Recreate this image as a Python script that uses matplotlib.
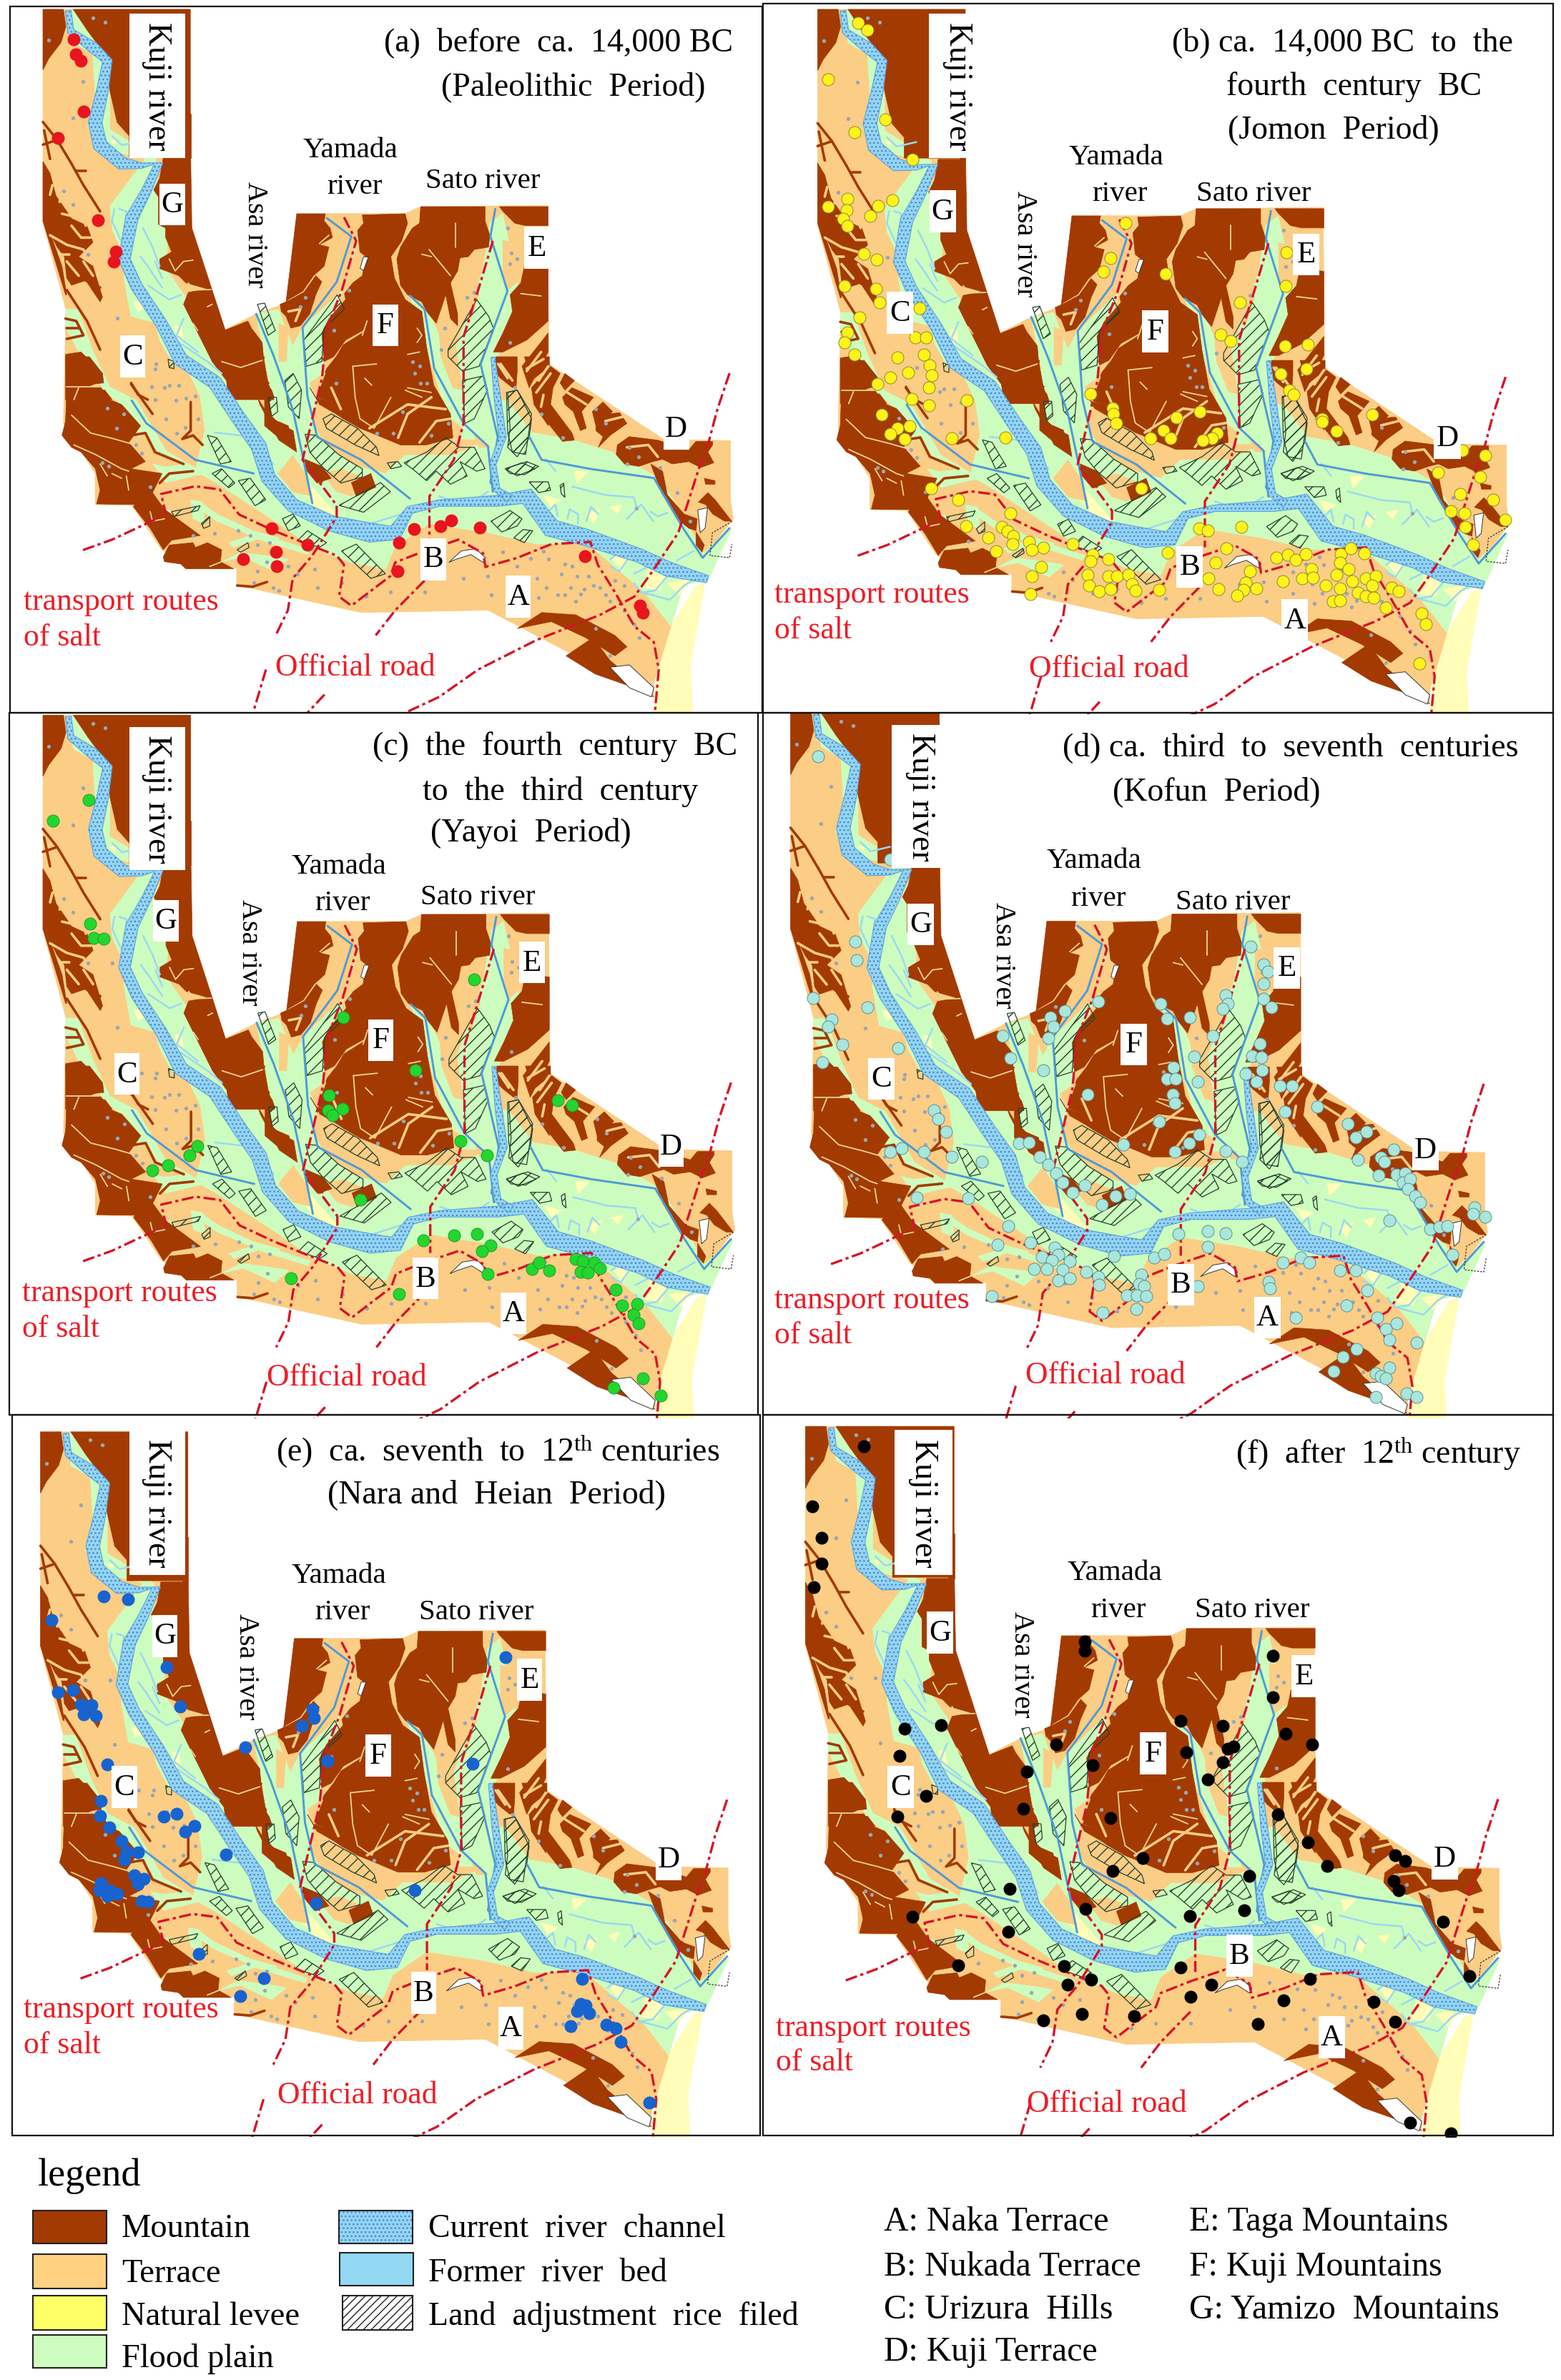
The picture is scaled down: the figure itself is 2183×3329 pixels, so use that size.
import numpy as np
import matplotlib
matplotlib.use("Agg")
import matplotlib.pyplot as plt
from matplotlib.patches import Polygon, Rectangle

plt.rcParams['font.family'] = ['Liberation Serif', 'DejaVu Serif']
plt.rcParams['mathtext.fontset'] = 'custom'
plt.rcParams['mathtext.rm'] = 'Liberation Serif'
plt.rcParams['mathtext.default'] = 'regular'
plt.rcParams['hatch.linewidth'] = 1.0

MOUNTAIN_C = '#A33A02'; TERRACE_C = '#FBCD85'; LEVEE_C = '#FFFDB8'; LEVEE_LEG = '#FFFF66'
FLOOD_C = '#CDFDBE'; RIVER_C = '#95D4F2'; STIPPLE_C = '#3F86CF'; LINE_BLUE = '#4E9AD6'
ROAD_C = '#D5142A'; GREY_C = '#9AA6B4'

ORIG_NW = (50,160); ORIG_C = (370,280); ORIG_E = (680,500); ORIG_SW = (70,500)
def Z(origin, polys):
    return [[((origin[0]+x/3)*1.4654, (origin[1]+y/3)*1.568) for x, y in p] for p in polys]

NW_MOUNT = [
    [(535,185),(650,185),(655,480),(795,908),(890,870),(905,900),(950,960),(955,1020),(975,1130),(1000,1200),(810,1200),(800,1120),(740,1040),(670,900),(620,800),
     (640,750),(720,735),(630,710),(600,680),(520,650),(520,610),(570,580),(545,520),(545,480),(515,465),(515,350),(495,320),(520,270)],
    [(625,0),(650,0),(650,185),(625,185)],
    [(30,200),(60,250),(85,345),(130,410),(150,440),(215,470),(240,540),(180,600),(240,640),(280,770),(270,790),(210,700),(150,720),(130,690),(120,600),(90,560),(60,500),(30,450)],
    [(30,450),(60,500),(110,640),(130,760),(125,760)],
    [(125,1010),(190,1000),(280,1090),(280,1120),(210,1150),(290,1160),(320,1200),(125,1200)],
]
NW_BRANCH = [[(30,35),(90,110),(150,210),(200,300),(270,410)],[(170,240),(210,240)],[(130,740),(215,870),(270,990)],[(35,70),(60,190)],[(30,130),(90,110)],
    [(125,860),(170,870),(200,930),(130,945)],[(130,900),(180,900)],[(400,1130),(430,1180),(470,1200)],[(210,700),(270,730)]]
NW_CUT = [[(70,260),(120,300),(100,370)],[(110,420),(200,440),(210,470)],[(60,510),(130,550),(200,570),(230,620)],[(130,620),(180,680)],[(200,620),(240,680)],
    [(150,470),(190,520),(230,520)],[(70,300),(60,340)],[(100,590),(140,590)],[(150,290),(175,330)]]
NW_STREAK = [[(560,610),(585,660),(620,620),(660,615)],[(640,710),(660,740),(735,738)],[(780,1040),(860,1065),(950,1035)],[(720,810),(740,800)],[(660,880),(680,910)]]
NW_LIGHT_RIV = [[(330,400),(320,450),(370,560)],[(350,400),(380,410),(375,540)],[(450,480),(490,560),(520,640)],[(440,600),(470,640),(530,730)],[(500,620),(530,690)],
    [(470,720),(560,780),(610,760)],[(620,860),(590,930),(680,1000)],[(600,960),(720,1040),(780,1090)]]
NW_LEVEE = [[(410,790),(450,780),(470,810),(430,830)],[(580,890),(610,890),(620,950),(600,950)],[(310,110),(340,110),(330,130)]]

C_MOUNT = [
    [(135,60),(255,60),(250,90),(275,120),(285,160),(230,190),(270,200),(250,280),(205,320),(160,385),(100,420),(90,430)],
    [(65,440),(100,425),(165,390),(215,320),(240,345),(215,400),(190,480),(150,530),(110,540),(90,490),(70,470)],
    [(410,65),(590,60),(600,100),(575,175),(530,240),(545,330),(590,420),(660,470),(680,620),(710,780),(780,900),(790,1000),(680,1030),(570,1030),(450,980),(400,960),
     (330,920),(280,850),(225,830),(240,760),(260,710),(300,660),(330,610),(410,560),(430,540),(340,590),(290,660),(250,680),(240,560),(270,500),(340,420),(335,395),
     (370,350),(410,320),(425,240),(400,220),(390,130),(415,100)],
    [(655,30),(925,30),(925,90),(945,150),(940,200),(880,210),(855,240),(820,245),(810,300),(780,350),(810,480),(810,530),(780,500),(760,400),(720,520),(680,470),
     (660,430),(600,400),(570,360),(555,250),(570,200),(620,120),(650,100)],
    [(985,30),(1190,30),(1190,110),(1095,110),(1050,100),(1000,50)],
    [(1095,280),(1190,290),(1190,510),(1100,590),(1000,640),(960,640),(1000,560),(1040,470),(1030,400),(1075,350),(1090,280)],
    [(960,670),(1010,660),(1050,780),(1040,790),(990,750),(960,700)],
    [(1080,700),(1190,560),(1190,640),(1110,790)],
    [(1120,790),(1190,740),(1190,950),(1130,860)],
    [(170,1090),(240,1120),(280,1170),(220,1190),(170,1130)],
    [(0,760),(30,800),(40,830),(20,850),(30,920),(100,950),(110,1000),(130,1050),(60,1000),(0,950)],
    [(190,790),(215,830),(280,850),(330,920),(300,900),(230,860)],
]
C_TERRACE = [[(400,220),(430,235),(410,330),(350,360),(345,390),(300,380),(330,340),(370,250)],[(310,600),(410,565),(440,580),(420,605),(350,630),(320,620)],
    [(190,770),(250,730),(330,840),(340,940),(280,880),(215,830)],[(730,530),(790,530),(830,800),(790,790),(740,660)],[(800,300),(880,310),(900,400),(860,520),(820,480)],
    [(280,180),(330,160),(300,300),(260,290)],[(530,240),(560,360),(600,430),(570,400),(530,320)],[(1000,170),(1090,200),(1080,330),(1020,380),(1000,300)],
    [(780,920),(830,960),(820,1010),(790,1000)],[(880,990),(950,1040),(900,1040)],[(60,520),(100,540),(90,680),(60,680)]]
C_CUT = [[(440,960),(600,860),(760,880)],[(560,1000),(600,900),(700,830)],[(650,1020),(720,930),(780,920)],[(100,470),(150,460),(130,510)],[(980,690),(1020,750)],
    [(1100,720),(1160,640)],[(1150,760),(1190,700)],[(250,730),(220,810)],[(280,790),(320,880)]]
C_STREAK = [[(370,700),(470,690)],[(370,700),(380,830),(400,920),(460,960),(530,830)],[(420,750),(450,780)],[(600,790),(700,810)],[(600,650),(650,640)],[(590,800),(660,830)],
    [(640,540),(660,570),(640,600)],[(430,510),(410,570)],[(690,210),(780,320)],[(800,100),(800,200)],[(1075,395),(1160,405)],[(660,230),(700,240)],[(230,185),(270,150)]]
E_MOUNT = [
    [(190,130),(270,40),(310,70),(280,130),(270,200),(360,320),(370,350),(320,355),(260,280),(240,230),(200,190)],
    [(320,170),(360,130),(450,170),(400,230),(420,300),(395,310),(365,230),(330,200)],
    [(445,230),(490,190),(530,230),(460,290)],
    [(460,310),(460,270),(510,240),(560,235),(590,280),(520,330),(470,380),(490,335)],
    [(550,370),(600,335),(720,350),(850,390),(880,355),(950,355),(950,370),(930,400),(955,445),(900,465),(850,440),(780,450),(740,430),(700,440),(640,460),(580,450),(545,410)],
    [(690,450),(740,480),(760,580),(830,660),(885,680),(880,730),(850,720),(800,680),(735,570)],
    [(880,735),(915,790),(905,820),(880,790)],
    [(890,610),(930,570),(960,600),(1030,690),(1000,690),(950,660),(920,620)],
    [(915,510),(960,520),(960,535),(920,535)],
    [(40,0),(130,0),(130,60),(125,130),(100,120),(50,80)],
    [(160,0),(265,0),(265,40),(190,100)],
    [(330,70),(370,100),(330,140),(310,110)],
]
E_CUT = [[(210,150),(270,70)],[(340,150),(420,200)],[(500,270),(580,250)],[(590,380),(680,370),(720,420)],[(230,210),(240,160)],[(60,30),(110,100)],[(170,50),(240,10)]]
E_LEVEE = [[(530,850),(570,810),(610,820),(570,900)],[(680,890),(750,920),(730,980),(660,970)],[(370,480),(430,480),(380,530)],[(520,630),(570,620),(550,660)],
    [(240,580),(310,600),(270,630)],[(420,660),(480,640),(450,700)],[(760,950),(870,930),(810,1000)]]
E_LIGHT_RIV = [[(360,545),(500,580),(620,590),(630,630)],[(260,650),(290,620),(300,670)],[(340,680),(350,640),(385,660),(385,700)],[(420,690),(440,630),(470,660)],
    [(520,850),(570,810),(610,825),(560,900),(520,880)],[(620,910),(680,880),(760,920),(710,980),(650,990),(620,950)],[(660,990),(770,1020),(830,960),(880,930)],
    [(690,650),(720,670),(760,655)],[(590,680),(650,620),(700,690)],[(250,430),(290,480)],[(800,855),(870,815)]]
SW_MOUNT = [
    [(65,0),(165,0),(220,70),(225,110),(70,125)],
    [(70,130),(210,125),(250,180),(300,200),(380,290),(330,360),(400,440),(340,470),(470,490),(430,570),(480,640),(630,750),(510,770),(475,810),(420,720),(350,630),(355,620),
     (195,618),(210,560),(190,470),(130,400),(90,380),(50,330),(65,270)],
    [(475,840),(500,790),(600,780),(610,800),(660,780),(720,810),(715,860),(770,890),(570,890),(550,870),(480,860)],
    [(700,0),(900,0),(880,70),(920,110),(870,170),(900,220),(960,280),(1020,310),(1035,400),(960,350),(880,200),(870,170),(800,100),(740,90)],
    [(1085,450),(1165,490),(1140,530),(1090,490)],
]
SW_TERRACE = [[(330,360),(400,320),(450,400),(560,450),(480,460),(400,440)],[(320,490),(350,470),(430,470),(465,490),(430,550),(340,510)],
    [(240,200),(310,210),(370,290),(310,280)]]
SW_STREAK = [[(90,245),(170,320),(270,345),(340,365),(390,330)],[(100,370),(190,410),(300,470),(330,480)],[(210,450),(240,500)],[(260,490),(300,510)],[(70,125),(210,125)],
    [(120,130),(100,180)],[(420,650),(430,690),(480,680)],[(510,780),(600,770)],[(320,500),(330,560)],[(670,880),(720,860)]]
SW_BRANCH = [[(340,115),(380,170),(430,240)],[(590,190),(590,310),(555,345),(600,330),(640,370)],[(340,330),(400,320),(440,400),(560,450)],[(460,530),(500,490),(600,480)],
    [(785,960),(850,965),(910,945)],[(240,200),(310,225),(370,290)]]
SW_FLOOD = [[(630,610),(700,660),(850,730),(960,760),(950,780),(830,745),(700,690),(630,640)],[(750,780),(870,740),(1090,810),(1080,830),(870,765),(770,800)],
    [(720,860),(800,820),(950,840),(1000,850),(940,900),(810,840)],[(430,670),(500,640),(520,680),(460,700)],[(590,600),(640,610),(650,700),(600,680)]]

TERRACE_OUT = [(88,22),(390,22),(390,500),(460,725),(525,690),(590,665),(608,470),(830,470),(862,455),(1122,452),
    (1125,800),(1360,965),(1497,968),(1497,1100),(1503,1140),(1440,1225),(1452,1272),(1400,1285),(1375,1375),(1340,1500),(1340,1530),
    (1000,1340),(740,1345),(485,1285),(485,1248),(380,1248),(330,1205),(270,1110),(195,1108),(195,1040),(130,930),(135,680),(88,490)]
COAST = [(1445,1278),(1425,1288),(1375,1375),(1345,1490),(1340,1565),(1420,1565),(1415,1460),(1440,1310)]
FLOOD_MAIN = [(140,25),(165,25),(225,100),(235,135),(225,200),(225,285),(270,315),(320,350),(325,440),(345,500),(340,590),(385,660),
    (410,720),(450,810),(520,860),(560,950),(625,1000),(650,960),(720,1020),(790,1040),(830,1000),(930,1000),(1010,960),(1020,880),
    (1040,880),(1090,950),(1170,965),(1260,995),(1350,1050),(1400,1130),(1440,1215),(1500,1160),(1452,1272),(1400,1285),(1375,1375),
    (1320,1300),(1200,1190),(1100,1195),(1000,1170),(880,1150),(810,1200),(790,1250),(720,1235),(640,1202),(571,1150),(518,1113),(444,1061),(400,1035),
    (420,945),(410,870),(385,815),(352,795),(327,747),(318,710),(268,695),(254,612),(254,559),(230,506),(225,454),(298,350),(220,330),(180,280),(195,210),(190,120),(150,95)]
FLOOD_STRIPS = [
    [(135,680),(160,680),(190,770),(225,850),(280,880),(340,990),(420,1040),(340,1060),(300,1000),(260,900),(215,860),(170,790),(135,720)],
    [(525,690),(570,680),(600,760),(620,720),(700,640),(725,560),(735,520),(700,650),(670,750),(650,870),(640,930),(660,965),(620,1005),
     (570,960),(540,860),(545,800)],
    [(840,650),(880,690),(925,790),(970,660),(990,590),(1005,490),(1030,470),(1065,640),(1015,800),(1020,880),(1010,965),(930,965),(890,820)],
]
TERRACE_EXTRA = [[(1000,1240),(1130,1200),(1200,1195),(1300,1290),(1340,1400),(1240,1340),(1100,1290)],[(660,1040),(700,1030),(770,1060),(720,1090),(690,1080)],
    [(570,1040),(600,1000),(625,1040),(640,1090),(600,1080)]]
MOUNT_EXTRA = [
    [(88,22),(130,22),(135,60),(125,95),(100,130),(88,155)],
    [(150,22),(390,22),(390,345),(265,345),(265,300),(240,270),(225,200),(215,120),(180,70)],
    [(1060,1380),(1110,1345),(1180,1350),(1260,1395),(1285,1420),(1260,1440),(1200,1400),(1130,1365)],
    [(1160,1440),(1215,1400),(1250,1450),(1340,1530),(1300,1510),(1220,1480)],
    [(720,1060),(760,1040),(770,1070),(730,1090)],
]
LEVEE_EXTRA = [[(610,1030),(640,1070),(690,1130),(670,1140),(610,1070)]]
C_HATCH = [[(165,590),(305,400),(335,460),(250,540),(240,680),(175,700)],[(770,630),(890,420),(940,490),(960,540),(900,700),(830,720),(770,660)],[(830,760),(920,740),(935,800),(880,920),(840,940)],
    [(245,920),(280,900),(390,960),(470,1040),(480,1075),(380,1030),(260,960)],[(585,1105),(680,1060),(760,1000),(820,1040),(880,1040),(925,1130),(890,1140),(820,1100),(850,1160),(780,1195),(720,1140),(680,1180),(620,1130)],
    [(170,985),(220,990),(310,1070),(410,1130),(410,1165),(320,1190),(240,1120),(190,1060)],[(85,760),(120,730),(155,800),(145,920),(100,870)],[(1015,810),(1060,800),(1120,900),(1095,1070),(1040,1060),(1020,980)],
    [(1010,1130),(1100,1100),(1150,1120),(1090,1155),(1030,1150)],[(515,1105),(560,1100),(575,1120),(530,1130)],[(15,830),(50,830),(55,890),(30,910)]]
E_HATCH = [[(90,150),(130,140),(190,260),(180,340),(130,420),(90,380),(100,300)],[(80,470),(150,445),(205,470),(130,500)],[(180,525),(260,525),(270,560),(220,570)],
    [(20,690),(100,645),(150,680),(130,710),(65,735)],[(115,760),(155,725),(195,730),(160,780)],[(310,540),(325,530),(330,590),(315,575)]]
SW_HATCH = [[(660,330),(700,340),(760,440),(715,450)],[(680,490),(720,470),(775,530),(750,550)],[(790,520),(840,510),(905,600),(860,625)],[(975,680),(1020,660),(1050,710),(1000,730)],
    [(510,650),(630,625),(620,645),(520,670)],[(635,700),(670,670),(670,710),(645,720)],[(785,810),(830,780),(835,800),(800,820)],[(1040,770),(1080,730),(1160,780),(1130,800)]]
NW_HATCH = [[(930,800),(960,795),(1005,910),(975,930)],[(555,1030),(580,1040),(580,1070),(560,1065)]]
A_HATCH = [[(695,1110),(780,1060),(800,1080),(745,1125)],[(700,1210),(730,1195),(790,1260),(760,1270)]]

KUJI = [(140,25,12),(145,70,14),(190,105,24),(220,135,20),(210,200,24),(195,270,28),(205,320,30),(250,360,28),(290,365,12),(325,360,18),
    (300,420,20),(270,480,26),(255,570,24),(280,630,24),(330,710,24),(370,790,30),(440,840,30),(490,920,30),(530,980,32),(550,1050,30),
    (600,1110,30),(680,1150,34),(760,1170,42),(810,1170,34),(840,1120,18),(900,1105,14),(1020,1100,24),(1080,1090,36),(1130,1160,40),
    (1200,1180,36),(1310,1220,30),(1370,1250,32),(1450,1272,16)]
SATO = [(1010,785,8),(1020,880,14),(1030,960,15),(1010,1020,13),(1018,1075,14),(1045,1095,18)]
DARK_RIVERS = [
    [(670,480),(720,520),(690,620),(620,720),(630,870),(650,960),(740,1010),(840,1095)],
    [(840,650),(870,680),(890,810),(950,930),(1000,980),(1010,1080)],
    [(1015,460),(1005,520),(1040,640),(985,800),(1020,960),(1005,1060),(1025,1085)],
    [(525,690),(560,780),(600,900),(620,1000),(640,1105)],
    [(270,880),(300,930),(400,1010),(520,1040)],
    [(1085,960),(1110,1010),(1210,1030),(1340,1050),(1400,1160),(1440,1225),(1495,1160)],
]
LIGHT_RIVERS = [[(660,1130),(760,1150),(820,1130)],[(1000,1080),(960,1110),(900,1090)],[(230,300),(250,320),(290,310)],[(440,950),(520,960),(560,1020)]]
HOLES = [[(920,1235),(945,1210),(975,1205),(995,1225),(990,1235),(965,1218),(935,1228)],
    [(1250,1465),(1290,1460),(1340,1510),(1335,1530),(1290,1510)],[(1430,1120),(1450,1115),(1445,1160),(1435,1170)],
    [(745,565),(755,565),(745,595),(738,590)]]
HARBOUR = [(1500,1145),(1460,1170),(1455,1220),(1495,1225),(1500,1195)]
ROADS = [
    [(170,1208),(230,1185),(300,1150),(340,1130),(330,1085),(400,1068),(450,1075),(490,1130),(560,1165),(630,1195),(690,1220),(705,1240),(695,1310),
     (720,1330),(800,1265),(810,1235),(870,1210),(940,1185),(990,1215),(995,1245),(1060,1225),(1130,1195),(1210,1190),(1225,1240),(1260,1300),
     (1300,1375),(1340,1410),(1350,1470),(1342,1565)],
    [(705,478),(730,530),(700,640),(670,720),(660,830),(620,1010),(690,1110),(690,1135),(640,1220),(600,1270),(590,1340),(565,1395)],
    [(545,1470),(520,1560)],
    [(1010,530),(985,620),(950,740),(950,930),(930,1010),(880,1090),(880,1190)],
    [(870,1275),(810,1340),(770,1395)],
    [(1495,820),(1470,900),(1450,980),(1435,1020),(1390,1170),(1340,1250),(1300,1310),(1230,1350),(1100,1405),(980,1470),(900,1530),(830,1565)],
    [(665,1525),(630,1565)],
]
GREY_DOTS = [(190,40),(215,50),(100,90),(170,180),(150,260),(130,420),(150,450),(180,560),(230,560),(240,700),(290,800),(320,800),(310,850),(360,880),
    (340,920),(380,940),(400,870),(520,1280),(560,1290),(610,1260),(650,1290),
    (700,1280),(750,1310),(800,1300),(870,1300),(950,1270),(1000,1265),(1100,1270),(1150,1260),(1170,1290),(1190,1305),(1230,1290),(1250,1320),
    (1280,1340),(1300,1370),(1180,1320),(1120,1290),(1250,1440),(1310,1400),(1220,1380),(1060,1290)]
GREY_E = [(330,870),(360,880),(380,920),(430,920),(410,975),(450,960),(540,940),(580,960),(500,1000),(300,1000),(330,1000),(260,850),(130,880),(185,845),(70,820),(220,1010),(240,815),
    (630,635),(800,570),(855,690),(730,465),(600,380),(640,420),(590,450),(500,280),(460,220),(320,340),(230,240),(120,130),(20,1000)]
GREY_C_AREA = [(620,680),(650,700),(630,730),(655,770),(680,770),(755,540),(740,630),(850,410),(880,390),(1030,600),(1035,225),(1030,270),(1060,250),(1020,120),(150,450),(170,410),
    (290,550),(355,380),(300,770),(470,980),(540,980),(700,990),(580,890),(770,940)]
GREY_SW = [(240,215),(310,240),(280,300),(360,370),(385,405),(420,545),(245,460),(220,445),(600,750),(690,740),(790,730),(840,750),(870,790),(920,780),(870,900),(910,860),(1000,880),
    (960,980),(1110,890),(500,120),(540,120),(440,180),(570,175),(480,130),(620,260),(530,320),(440,50)]
ANCHOR_A = [(88,22),(1452,1272)]
ANCHORS = {'a':[(88,22),(1452,1272)],'b':[(110,22),(1418,1285)],'c':[(88,10),(1455,1285)],
           'd':[(57,5),(1375,1292)],'e':[(83,37),(1447,1288)],'f':[(86,25),(1403,1293)]}
CROPS = {'a':(0,0,1070,1000),'b':(1065,0,1118,1000),'c':(0,995,1070,990),'d':(1065,995,1118,990),'e':(0,1980,1070,1010),'f':(1065,1980,1118,1010)}

SITES_A = [(151,88),(155,121),(165,135),(172,246),(118,304),(201,484),(237,554),(233,575),(557,1160),(630,1197),(565,1212),(498,1228),(567,1243),(817,1191),(848,1162),(902,1156),(925,1143),(983,1158),(815,1255),(1198,1221),(1312,1330),(1318,1345)]
SITES_B = [(189,52),(208,68),(131,176),(243,264),(182,291),(296,352),(168,437),(131,455),(167,462),(160,481),(169,497),(257,440),(228,453),(213,475),(201,558),(226,570),(163,628),(224,635),(231,665),(192,697),(310,678),(168,730),(163,752),(183,780),(301,741),(322,741),(319,780),(266,786),(330,803),(334,824),(287,819),(253,829),(227,843),(328,851),(294,876),(328,890),(403,880),(235,911),(291,936),(267,941),(253,953),(281,965),(373,963),(478,961),(332,1072),(386,1098),(488,1127),(401,1155),(471,1157),(445,1180),(483,1167),(493,1177),(492,1195),(525,1190),(553,1203),(530,1208),(460,1210),(610,1195),(548,1245),(530,1266),(527,1304),(650,1218),(680,1228),(645,1232),(640,1262),(680,1265),(697,1265),(720,1262),(642,1285),(662,1298),(684,1293),(726,1283),(734,1297),(780,1295),(797,1214),(858,1160),(875,1165),(941,1157),(912,1205),(890,1236),(877,1270),(896,1293),(958,1255),(950,1280),(970,1292),(945,1295),(932,1307),(1010,1224),(1032,1218),(1048,1230),(1068,1217),(1022,1277),(1060,1270),(1078,1250),(1082,1268),(1136,1217),(1155,1205),(1183,1215),(1135,1235),(1152,1250),(1127,1262),(1107,1285),(1135,1292),(1158,1276),(1185,1270),(1205,1265),(1198,1285),(1170,1302),(1185,1310),(1200,1312),(1120,1320),(1135,1318),(1235,1290),(1250,1298),(1225,1335),(1295,1347),(1303,1370),(1290,1457),(1375,989),(1420,1000),(1327,1038),(1410,1048),(1435,1097),(1370,1085),(1352,1122),(1378,1128),(1380,1157),(1458,1142),(1396,1197),(714,490),(684,567),(670,598),(792,602),(645,865),(688,897),(690,910),(696,930),(813,918),(788,946),(763,963),(802,962),(860,905),(893,952),(883,963),(866,968),(745,1073),(938,665),(1030,555),(1028,628),(901,735),(920,750),(1027,761),(1071,757),(1069,810),(1018,821),(1035,858),(1043,867),(1100,920),(1100,927),(1127,947),(1198,911)]
SITES_C = [(182,198),(109,244),(185,472),(192,503),(213,505),(971,595),(703,680),(851,796),(674,852),(672,886),(681,897),(702,882),(1143,863),(1173,875),(404,965),(388,985),(344,1008),(312,1018),(943,954),(998,985),(739,1083),(867,1173),(931,1162),(978,1160),(1005,1185),(987,1198),(1000,1248),(1090,1237),(1105,1222),(1125,1240),(1180,1215),(1195,1220),(1190,1243),(1205,1245),(1218,1222),(1230,1235),(1262,1283),(1305,1315),(1275,1317),(1298,1338),(1308,1358),(597,1257),(818,1292),(1317,1480),(1258,1500),(1354,1517)]
SITES_D = [(111,101),(184,512),(186,553),(101,637),(208,658),(137,684),(130,700),(158,740),(268,747),(119,780),(252,330),(338,886),(347,905),(362,933),(253,978),(275,969),(319,977),(373,988),(432,1000),(305,1078),(405,1080),(484,1142),(463,1183),(472,721),(488,770),(505,958),(525,957),(545,988),(562,1005),(578,1025),(590,1045),(552,797),(567,680),(572,700),(562,725),(595,665),(660,645),(640,850),(710,962),(634,1052),(610,1068),(668,1095),(694,1075),(722,1070),(528,1178),(575,1190),(582,1205),(550,1210),(570,1218),(605,1220),(535,1237),(560,1237),(590,1238),(582,1262),(605,1258),(637,1243),(660,1255),(662,1272),(692,1208),(745,1250),(740,1270),(750,1275),(716,1295),(737,1296),(755,1297),(735,1325),(669,1333),(770,1212),(790,1203),(782,650),(795,683),(840,680),(885,720),(910,630),(915,650),(905,660),(848,766),(808,790),(795,815),(812,815),(855,822),(806,850),(810,870),(780,910),(858,940),(838,958),(810,977),(910,975),(960,522),(985,562),(993,578),(985,605),(985,638),(1000,658),(978,738),(962,765),(980,768),(950,805),(982,797),(970,822),(1017,832),(1040,832),(1027,888),(1090,877),(1150,915),(1165,945),(1187,933),(1240,973),(1215,990),(1222,1000),(1170,995),(1210,1030),(1245,1028),(1262,1025),(1258,1045),(1272,1038),(1268,1060),(1282,1075),(1292,1090),(943,1000),(817,1160),(875,1153),(910,1158),(875,1188),(855,1275),(1023,1222),(1057,1212),(1075,1222),(995,1265),(997,1280),(1135,1240),(1165,1240),(1188,1285),(1147,1318),(1047,1345),(1208,1345),(1245,1358),(1225,1370),(1232,1393),(1167,1415),(1140,1432),(1122,1463),(1232,1455),(1205,1468),(1215,1475),(1225,1480),(1205,1520),(1265,1512),(1285,1520),(1285,1400),(1232,1130),(1312,1148),(1330,1143),(1345,1142),(1355,1205),(1398,1100),(1395,1115),(1420,1122),(452,1297)]
SITES_E = [(212,394),(262,400),(105,445),(342,548),(118,603),(149,597),(369,634),(165,628),(187,630),(172,650),(197,653),(641,640),(644,659),(619,675),(502,722),(671,751),(968,757),(1036,526),(220,759),(207,839),(205,871),(224,896),(335,873),(362,867),(398,892),(380,905),(249,925),(259,948),(283,950),(255,966),(463,954),(275,1000),(295,1008),(283,1018),(206,1017),(204,1033),(224,1033),(240,1040),(220,1045),(290,1055),(303,1058),(647,1060),(850,1032),(408,1170),(541,1224),(493,1262),(1193,1225),(1200,1283),(1190,1280),(1183,1295),(1208,1300),(1170,1328),(1243,1325),(1262,1332),(1272,1362),(1330,1493)]
SITES_F = [(201,68),(100,199),(118,267),(118,323),(103,374),(634,492),(634,513),(1003,523),(1003,613),(905,675),(822,665),(1028,693),(1080,716),(352,673),(280,681),(578,716),(271,741),(925,720),(915,725),(833,732),(905,755),(650,761),(520,774),(875,792),(323,828),(513,856),(267,872),(1013,868),(684,876),(1072,929),(747,963),(1110,980),(689,991),(1243,957),(1262,968),(1240,1012),(1250,1033),(957,1001),(486,1029),(635,1073),(947,1076),(840,1088),(296,1090),(1337,1100),(484,1122),(386,1195),(593,1197),(822,1200),(646,1226),(600,1237),(882,1237),(841,1263),(1076,1225),(1024,1271),(1388,1218),(1200,1275),(629,1301),(731,1305),(553,1315),(973,1323),(1242,1318),(1272,1537),(1352,1560)]
SITES = {'a':SITES_A,'b':SITES_B,'c':SITES_C,'d':SITES_D,'e':SITES_E,'f':SITES_F}
SITE_STYLE = {'a':('#E8141E','#E8141E'),'b':('#FFF21A','#8A8A30'),'c':('#23D62E','#1E9A30'),'d':('#A9E6DC','#5F8F90'),'e':('#1763CF','#1763CF'),'f':('#000000','#000000')}

TITLES = {
 'a':[("(a)  before  ca.  14,000 BC",1145,93),("(Paleolithic  Period)",1175,190)],
 'b':[("(b) ca.  14,000 BC  to  the",1140,93),("fourth  century  BC",1162,190),("(Jomon  Period)",1122,285)],
 'c':[("(c)  the  fourth  century  BC",1138,78),("to  the  third  century",1148,178),("(Yayoi  Period)",1088,270)],
 'd':[("(d) ca.  third  to  seventh  centuries",1038,80),("(Kofun  Period)",892,178)],
 'e':[("(e)  ca.  seventh  to  12$^{th}$ centuries",1020,78),("(Nara and  Heian  Period)",1018,172)],
 'f':[("(f)  after  12$^{th}$ century",1210,82)],
}
LABELS = {
 'a':{'river':[(322,190),(522,515),(718,330),(726,410),(990,398)],'boxes':[('G',353,450),('E',1100,545),('F',790,715),('C',272,783),('D',1386,942),('B',888,1228),('A',1062,1310)],'red':[(48,1320),(48,1398),(728,1465)]},
 'b':{'river':[(385,190),(515,535),(695,345),(703,425),(965,425)],'boxes':[('G',355,465),('E',1068,560),('F',772,728),('C',272,688),('D',1345,962),('B',840,1245),('A',1046,1362)],'red':[(25,1305),(25,1383),(682,1468)]},
 'c':{'river':[(322,195),(510,535),(695,345),(702,425),(980,412)],'boxes':[('G',340,465),('E',1090,558),('F',780,730),('C',260,805),('D',1375,965),('B',872,1258),('A',1052,1335)],'red':[(45,1290),(45,1368),(710,1476)]},
 'd':{'river':[(312,190),(473,540),(652,332),(660,415),(925,423)],'boxes':[('G',312,473),('E',1030,570),('F',730,740),('C',235,815),('D',1302,973),('B',822,1272),('A',992,1345)],'red':[(25,1305),(25,1383),(675,1472)]},
 'e':{'river':[(322,190),(505,545),(695,348),(702,428),(977,428)],'boxes':[('G',338,480),('E',1085,575),('F',775,740),('C',255,808),('D',1370,965),('B',868,1255),('A',1047,1332)],'red':[(48,1290),(48,1368),(732,1477)]},
 'f':{'river':[(318,190),(510,540),(692,343),(700,423),(962,423)],'boxes':[('G',350,473),('E',1065,568),('F',768,735),('C',273,808),('D',1340,963),('B',937,1175),('A',1118,1352)],'red':[(28,1330),(28,1405),(677,1495)]},
}
RIVER_NAMES = ["Kuji river","Asa river","Yamada","river","Sato river"]
RED_NAMES = ["transport routes","of salt","Official road"]
FRAMES = {'a':(14,10,1066,998),'b':(1067,6,2172,998),'c':(13,998,1060,1980),'d':(1067,998,2172,1980),'e':(17,1980,1063,2988),'f':(1067,1980,2172,2988)}

LEG_LEFT = ["Mountain","Terrace","Natural levee","Flood plain"]
LEG_LEFT_C = [MOUNTAIN_C,'#FFD080',LEVEE_LEG,FLOOD_C]
LEG_MID = ["Current  river  channel","Former  river  bed","Land  adjustment  rice  filed"]
LEG_KEY1 = ["A: Naka Terrace","B: Nukada Terrace","C: Urizura  Hills","D: Kuji Terrace"]
LEG_KEY2 = ["E: Taga Mountains","F: Kuji Mountains","G: Yamizo  Mountains"]

ALL_FLOOD = [FLOOD_MAIN] + FLOOD_STRIPS + Z(ORIG_SW, SW_FLOOD)
ALL_LEVEE = LEVEE_EXTRA + Z(ORIG_NW, NW_LEVEE) + Z(ORIG_E, E_LEVEE)
ALL_TERRACE = TERRACE_EXTRA + Z(ORIG_C, C_TERRACE) + Z(ORIG_SW, SW_TERRACE)
ALL_MOUNT = MOUNT_EXTRA + Z(ORIG_NW, NW_MOUNT) + Z(ORIG_C, C_MOUNT) + Z(ORIG_E, E_MOUNT) + Z(ORIG_SW, SW_MOUNT)
ALL_CUT = Z(ORIG_NW, NW_CUT) + Z(ORIG_C, C_CUT) + Z(ORIG_E, E_CUT)
ALL_STREAK = Z(ORIG_NW, NW_STREAK) + Z(ORIG_C, C_STREAK) + Z(ORIG_SW, SW_STREAK)
ALL_BRANCH = Z(ORIG_NW, NW_BRANCH) + Z(ORIG_SW, SW_BRANCH)
ALL_HATCH = A_HATCH + Z(ORIG_C, C_HATCH) + Z(ORIG_E, E_HATCH) + Z(ORIG_SW, SW_HATCH) + Z(ORIG_NW, NW_HATCH)
ALL_LIGHT = LIGHT_RIVERS + Z(ORIG_NW, NW_LIGHT_RIV) + Z(ORIG_E, E_LIGHT_RIV)
ALL_GREY = np.array(GREY_DOTS + Z(ORIG_E, [GREY_E])[0] + Z(ORIG_C, [GREY_C_AREA])[0] + Z(ORIG_SW, [GREY_SW])[0])

W, H = 2183, 3330
fig = plt.figure(figsize=(W/100, H/100), dpi=100, facecolor='white')

def ribbon(pts):
    p = np.array(pts, float)
    d = np.gradient(p[:,:2], axis=0)
    n = np.c_[-d[:,1], d[:,0]] / np.hypot(d[:,0], d[:,1])[:,None]
    hw = p[:,2:3] / 2
    return np.r_[p[:,:2] + n*hw, (p[:,:2] - n*hw)[::-1]]

for key, crop in CROPS.items():
    x0, y0, w, h = crop
    ax = fig.add_axes([x0/W, 1-(y0+h)/H, w/W, h/H])
    ax.set_xlim(0, 1568); ax.set_ylim(1568, 0); ax.axis('off')
    a0, a1 = np.array(ANCHOR_A, float)
    p0, p1 = np.array(ANCHORS[key], float)
    s = (p1-p0)/(a1-a0)
    T = lambda xy: (np.asarray(xy, float)-a0)*s+p0
    def fill(poly, color, z):
        ax.add_patch(Polygon(T(poly), closed=True, fc=color, ec=color, lw=0.5, zorder=z))
    def line(pts, color, lw, z, **kw):
        q = T(pts); ax.plot(q[:,0], q[:,1], color=color, lw=lw, zorder=z, solid_capstyle='round', **kw)
    fill(COAST, LEVEE_C, 1)
    fill(TERRACE_OUT, TERRACE_C, 1.5)
    for q in ALL_FLOOD: fill(q, FLOOD_C, 2)
    for q in ALL_LEVEE: fill(q, LEVEE_C, 2.2)
    for q in ALL_TERRACE: fill(q, TERRACE_C, 2.4)
    for q in ALL_MOUNT: fill(q, MOUNTAIN_C, 3)
    for q in ALL_CUT: line(q, TERRACE_C, 2.6, 3.2)
    for q in ALL_STREAK: line(q, '#E9D58E', 1.3, 3.2)
    for q in ALL_BRANCH: line(q, MOUNTAIN_C, 2.6, 3.2)
    for q in ALL_HATCH:
        ax.add_patch(Polygon(T(q), closed=True, fc='none', ec='#24402E', hatch='//', lw=0.9, zorder=3.5))
    for q in ALL_LIGHT: line(q, '#9CD8F2', 1.8, 4)
    for q in DARK_RIVERS: line(q, LINE_BLUE, 2.1, 4.1)
    for rb in (KUJI, SATO):
        ax.add_patch(Polygon(T(ribbon(rb)), closed=True, fc=RIVER_C, ec='none', zorder=4.3))
        ax.add_patch(Polygon(T(ribbon(rb)), closed=True, fc='none', ec=STIPPLE_C, hatch='...', lw=0, zorder=4.32))
        ax.add_patch(Polygon(T(ribbon(rb)), closed=True, fc='none', ec='#5BA3DE', lw=0.8, zorder=4.34))
    for q in HOLES:
        ax.add_patch(Polygon(T(q), closed=True, fc='white', ec='#333333', lw=0.7, zorder=4.5))
    line(HARBOUR, '#333333', 0.9, 4.5, linestyle=(0,(2,1.5)))
    g = T(ALL_GREY); ax.scatter(g[:,0], g[:,1], s=15, c=GREY_C, linewidths=0, zorder=4.6)
    for q in ROADS:
        r = T(q); ax.plot(r[:,0], r[:,1], color=ROAD_C, lw=2.4, zorder=5, linestyle=(0,(5,1.5,1.3,1.5)))
    pts = np.array(SITES[key], float)
    fc, ec = SITE_STYLE[key]
    ax.scatter(pts[:,0], pts[:,1], s=150, c=fc, edgecolors=ec, linewidths=0.7, zorder=6)
    L = LABELS[key]
    for name, (x, y) in zip(RIVER_NAMES, L['river']):
        if name == "Kuji river":
            ax.add_patch(Rectangle((x-57, y-158), 114, 316, fc='white', ec='none', zorder=6.9))
            ax.text(x, y, name, fontsize=33, rotation=-90, ha='center', va='center', zorder=7)
        elif name == "Asa river":
            ax.text(x, y, name, fontsize=29, rotation=-90, ha='center', va='center', zorder=7)
        else:
            ax.text(x, y, name, fontsize=29.5, ha='center', va='center', zorder=7)
    for ch, x, y in L['boxes']:
        ax.add_patch(Rectangle((x-26, y-46), 52, 92, fc='white', ec='none', zorder=6.9))
        ax.text(x, y, ch, fontsize=31, ha='center', va='center', zorder=7)
    for name, (x, y) in zip(RED_NAMES, L['red']):
        ha = 'center' if name.startswith('Official') else 'left'
        ax.text(x, y, name, fontsize=31.5, color='#EE1C25', ha=ha, va='center', zorder=7)
    for t, x, y in TITLES[key]:
        ax.text(x, y, t, fontsize=33, ha='center', va='center', zorder=7)

page = fig.add_axes([0, 0, 1, 1], zorder=10)
page.set_xlim(0, W); page.set_ylim(H, 0); page.axis('off'); page.patch.set_alpha(0)
for key, (l, t, r, b) in FRAMES.items():
    page.add_patch(Rectangle((l, t), r-l, b-t, fc='none', ec='#111111', lw=1.6))

page.text(53, 3044, "legend", fontsize=39, ha='left', va='center')
SW_Y = [(3093,3139),(3154,3202),(3212,3260),(3267,3313)]
for (name, c, (y0, y1), yt) in zip(LEG_LEFT, LEG_LEFT_C, SW_Y, [3118,3181,3241,3300]):
    page.add_patch(Rectangle((46, y0), 103, y1-y0, fc=c, ec='#222222', lw=1.5))
    page.text(170, yt, name, fontsize=33.5, ha='left', va='center')
SW2_Y = [(3093,3139),(3152,3198),(3212,3260)]
for i, (name, (y0, y1), yt) in enumerate(zip(LEG_MID, SW2_Y, [3118,3180,3241])):
    if i == 0:
        page.add_patch(Rectangle((474, y0), 103, y1-y0, fc=RIVER_C, ec='none'))
        page.add_patch(Rectangle((474, y0), 103, y1-y0, fc='none', ec=STIPPLE_C, lw=0, hatch='...'))
        page.add_patch(Rectangle((474, y0), 103, y1-y0, fc='none', ec='#222222', lw=1.5))
    elif i == 1:
        page.add_patch(Rectangle((475, y0), 103, y1-y0, fc='#93D8F3', ec='#222222', lw=1.5))
    else:
        page.add_patch(Rectangle((479, y0), 98, y1-y0, fc='white', ec='#222222', lw=1.5, hatch='///'))
    page.text(599, yt, name, fontsize=33, ha='left', va='center')
for name, yt in zip(LEG_KEY1, [3108,3171,3231,3290]):
    page.text(1236, yt, name, fontsize=34.5, ha='left', va='center')
for name, yt in zip(LEG_KEY2, [3108,3171,3231]):
    page.text(1663, yt, name, fontsize=34.5, ha='left', va='center')

fig.savefig('out.png', dpi=100, facecolor='white')
